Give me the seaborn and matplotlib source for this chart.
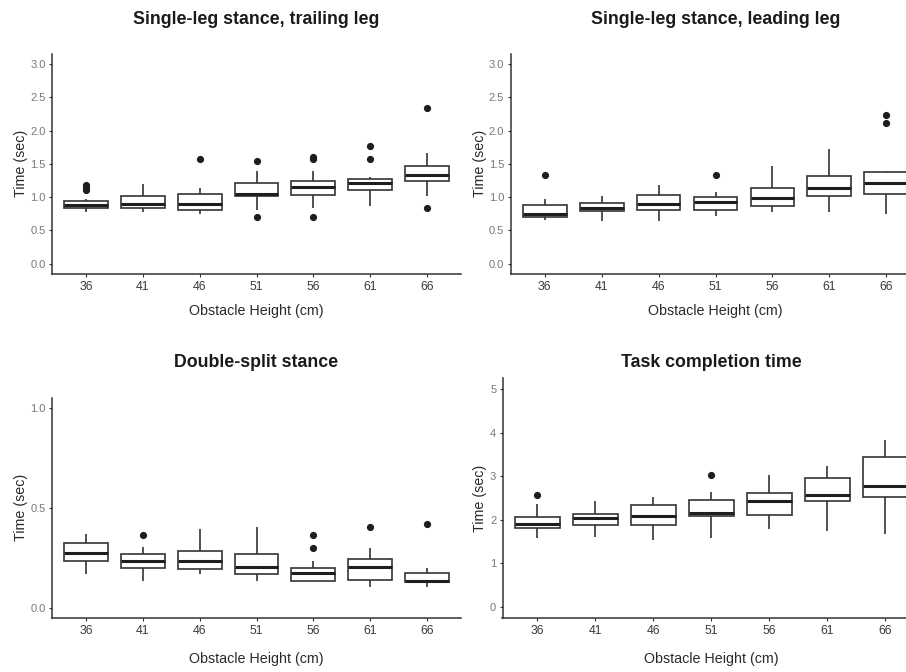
import numpy as np
import pandas as pd
import matplotlib
matplotlib.use("Agg")
import matplotlib.pyplot as plt
import seaborn as sns

heights = ["36", "41", "46", "51", "56", "61", "66"]

# Single-leg stance, trailing leg
trail_lo  = [0.78, 0.78, 0.74, 0.81, 0.83, 0.87, 1.02]
trail_q1  = [0.83, 0.84, 0.81, 1.01, 1.03, 1.11, 1.24]
trail_med = [0.88, 0.90, 0.90, 1.04, 1.15, 1.21, 1.34]
trail_q3  = [0.94, 1.01, 1.05, 1.21, 1.24, 1.27, 1.47]
trail_hi  = [0.97, 1.20, 1.14, 1.40, 1.40, 1.30, 1.67]
trail_out = [[1.11, 1.15, 1.18], [], [1.58], [0.70, 1.54],
             [0.70, 1.58, 1.61], [1.57, 1.77], [0.83, 2.34]]

# Single-leg stance, leading leg
lead_lo  = [0.65, 0.64, 0.64, 0.71, 0.77, 0.77, 0.75]
lead_q1  = [0.70, 0.79, 0.80, 0.80, 0.87, 1.01, 1.05]
lead_med = [0.75, 0.83, 0.89, 0.92, 0.99, 1.14, 1.21]
lead_q3  = [0.88, 0.91, 1.03, 1.00, 1.14, 1.31, 1.38]
lead_hi  = [0.97, 1.01, 1.18, 1.07, 1.47, 1.73, 1.40]
lead_out = [[1.33], [], [], [1.33], [], [], [2.11, 2.24]]

# Double-split stance
split_lo  = [0.167, 0.133, 0.168, 0.133, 0.135, 0.103, 0.103]
split_q1  = [0.232, 0.200, 0.193, 0.167, 0.135, 0.140, 0.130]
split_med = [0.272, 0.233, 0.233, 0.203, 0.172, 0.202, 0.133]
split_q3  = [0.322, 0.267, 0.285, 0.267, 0.197, 0.245, 0.173]
split_hi  = [0.367, 0.302, 0.395, 0.403, 0.233, 0.297, 0.197]
split_out = [[], [0.365], [], [], [0.30, 0.365], [0.403], [0.417]]

# Task completion time
task_lo  = [1.57, 1.61, 1.53, 1.57, 1.78, 1.74, 1.68]
task_q1  = [1.82, 1.87, 1.88, 2.08, 2.10, 2.42, 2.53]
task_med = [1.90, 2.04, 2.09, 2.16, 2.43, 2.57, 2.78]
task_q3  = [2.07, 2.14, 2.33, 2.45, 2.61, 2.97, 3.44]
task_hi  = [2.36, 2.44, 2.53, 2.64, 3.03, 3.24, 3.83]
task_out = [[2.56], [], [], [3.04], [], [], []]

titles = ["Single-leg stance, trailing leg", "Single-leg stance, leading leg",
          "Double-split stance", "Task completion time"]
xlabel = "Obstacle Height (cm)"
ylabel = "Time (sec)"

sns.set_style("white")
plt.rcParams["font.family"] = ["Liberation Sans", "DejaVu Sans"]

W, H = 906, 672
fig = plt.figure(figsize=(W / 100, H / 100), dpi=100)
fig.patch.set_facecolor("white")

# panel rectangles in pixels: left, right, top, bottom
panels = [
    dict(rect=(52, 461, 54, 273.7), lo=trail_lo, q1=trail_q1, med=trail_med, q3=trail_q3,
         hi=trail_hi, out=trail_out, ylim=(-0.15, 3.15),
         yticks=[0, 0.5, 1.0, 1.5, 2.0, 2.5, 3.0], fmt="{:.1f}",
         title_y=24, xlab_y=311, ylab_x=21),
    dict(rect=(510.5, 920.5, 54, 273.7), lo=lead_lo, q1=lead_q1, med=lead_med, q3=lead_q3,
         hi=lead_hi, out=lead_out, ylim=(-0.15, 3.15),
         yticks=[0, 0.5, 1.0, 1.5, 2.0, 2.5, 3.0], fmt="{:.1f}",
         title_y=24, xlab_y=311, ylab_x=480),
    dict(rect=(52, 461, 397.7, 617.7), lo=split_lo, q1=split_q1, med=split_med, q3=split_q3,
         hi=split_hi, out=split_out, ylim=(-0.05, 1.05),
         yticks=[0, 0.5, 1.0], fmt="{:.1f}",
         title_y=367, xlab_y=659, ylab_x=21),
    dict(rect=(502.5, 920, 378.4, 617.6), lo=task_lo, q1=task_q1, med=task_med, q3=task_q3,
         hi=task_hi, out=task_out, ylim=(-0.25, 5.25),
         yticks=[0, 1, 2, 3, 4, 5], fmt="{:.0f}",
         title_y=367, xlab_y=659, ylab_x=480),
]

edge = "#333333"
for p, title in zip(panels, titles):
    l, r, t, b = p["rect"]
    ax = fig.add_axes([l / W, 1 - b / H, (r - l) / W, (b - t) / H])
    rows = []
    for i, h in enumerate(heights):
        for v in (p["lo"][i], p["q1"][i], p["med"][i], p["q3"][i], p["hi"][i]):
            rows.append((h, v))
    df = pd.DataFrame(rows, columns=["height", "time"])
    orows = [(h, v) for h, vals in zip(heights, p["out"]) for v in vals]
    dfo = pd.DataFrame(orows, columns=["height", "time"])

    sns.boxplot(data=df, x="height", y="time", order=heights, ax=ax,
                color="white", saturation=1, linecolor=edge, linewidth=1.2,
                width=0.77, whis=(0, 100), showfliers=False,
                medianprops=dict(color="#1e1e1e", linewidth=2.2),
                capprops=dict(linewidth=0))
    sns.stripplot(data=dfo, x="height", y="time", order=heights, ax=ax,
                  jitter=False, color="#1e1e1e", size=5.2, linewidth=0, zorder=5)

    ax.set_xlim(-0.6, 6.6)
    ax.set_ylim(*p["ylim"])
    ax.set_yticks(p["yticks"])
    ax.set_yticklabels([p["fmt"].format(v) for v in p["yticks"]])
    ax.set_xlabel("")
    ax.set_ylabel("")
    for s in ("top", "right"):
        ax.spines[s].set_visible(False)
    for s in ("left", "bottom"):
        ax.spines[s].set_color(edge)
        ax.spines[s].set_linewidth(1.1)
    ax.tick_params(axis="both", which="major", direction="out", length=2.5,
                   width=0.8, color=edge, bottom=True, left=True)
    ax.tick_params(axis="x", labelsize=8.8, labelcolor="#3a3a3a", pad=2.5)
    ax.tick_params(axis="y", labelsize=8.0, labelcolor="#777777", pad=2.0)
    ax.grid(False)
    ax.set_facecolor("white")

    cx = (l + r) / 2
    cy = (t + b) / 2
    fig.text(cx / W, 1 - p["title_y"] / H, title, ha="center", va="baseline",
             fontsize=12.8, fontweight="bold", color="#1a1a1a")
    fig.text(cx / W, 1 - p["xlab_y"] / H, xlabel, ha="center", va="center",
             fontsize=10.3, color="#2a2a2a")
    fig.text(p["ylab_x"] / W, 1 - cy / H, ylabel, ha="center", va="center",
             rotation=90, fontsize=10.3, color="#2a2a2a")

fig.savefig("out.png", dpi=100, facecolor="white")
